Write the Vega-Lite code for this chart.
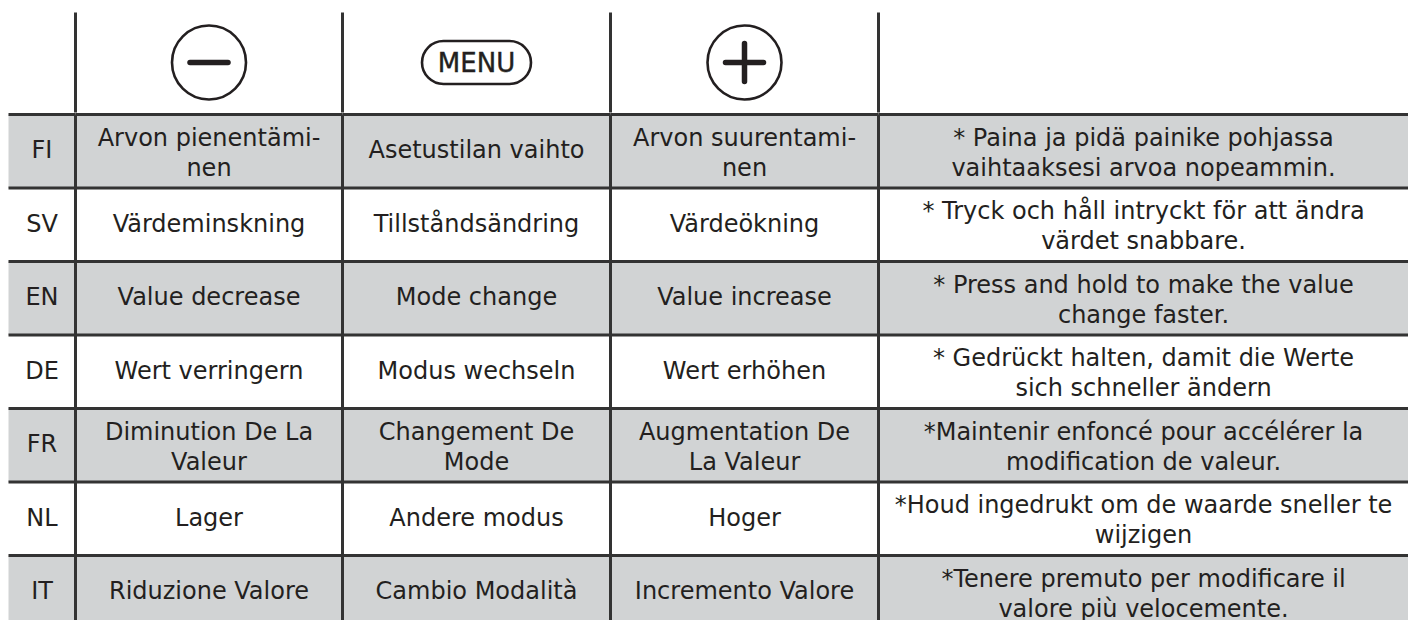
{
  "$schema": "https://vega.github.io/schema/vega-lite/v6.json",
  "padding": {"left": 6.5, "top": 10.5, "right": 0, "bottom": 0},
  "background": "white",
  "spacing": -3,
  "datasets": {
    "icons": [
      {"col": "minus", "label": ""},
      {"col": "menu", "label": "MENU"},
      {"col": "plus", "label": ""}
    ],
    "cells": [
      {"lang": "FI", "col": "lang", "text": "FI"},
      {"lang": "FI", "col": "minus", "text": "Arvon pienentämi-\nnen"},
      {"lang": "FI", "col": "menu", "text": "Asetustilan vaihto"},
      {"lang": "FI", "col": "plus", "text": "Arvon suurentami-\nnen"},
      {"lang": "FI", "col": "note", "text": "* Paina ja pidä painike pohjassa\nvaihtaaksesi arvoa nopeammin."},
      {"lang": "SV", "col": "lang", "text": "SV"},
      {"lang": "SV", "col": "minus", "text": "Värdeminskning"},
      {"lang": "SV", "col": "menu", "text": "Tillståndsändring"},
      {"lang": "SV", "col": "plus", "text": "Värdeökning"},
      {"lang": "SV", "col": "note", "text": "* Tryck och håll intryckt för att ändra\nvärdet snabbare."},
      {"lang": "EN", "col": "lang", "text": "EN"},
      {"lang": "EN", "col": "minus", "text": "Value decrease"},
      {"lang": "EN", "col": "menu", "text": "Mode change"},
      {"lang": "EN", "col": "plus", "text": "Value increase"},
      {"lang": "EN", "col": "note", "text": "* Press and hold to make the value\nchange faster."},
      {"lang": "DE", "col": "lang", "text": "DE"},
      {"lang": "DE", "col": "minus", "text": "Wert verringern"},
      {"lang": "DE", "col": "menu", "text": "Modus wechseln"},
      {"lang": "DE", "col": "plus", "text": "Wert erhöhen"},
      {"lang": "DE", "col": "note", "text": "* Gedrückt halten, damit die Werte\nsich schneller ändern"},
      {"lang": "FR", "col": "lang", "text": "FR"},
      {"lang": "FR", "col": "minus", "text": "Diminution De La\nValeur"},
      {"lang": "FR", "col": "menu", "text": "Changement De\nMode"},
      {"lang": "FR", "col": "plus", "text": "Augmentation De\nLa Valeur"},
      {"lang": "FR", "col": "note", "text": "*Maintenir enfoncé pour accélérer la\nmodification de valeur."},
      {"lang": "NL", "col": "lang", "text": "NL"},
      {"lang": "NL", "col": "minus", "text": "Lager"},
      {"lang": "NL", "col": "menu", "text": "Andere modus"},
      {"lang": "NL", "col": "plus", "text": "Hoger"},
      {"lang": "NL", "col": "note", "text": "*Houd ingedrukt om de waarde sneller te\nwijzigen"},
      {"lang": "IT", "col": "lang", "text": "IT"},
      {"lang": "IT", "col": "minus", "text": "Riduzione Valore"},
      {"lang": "IT", "col": "menu", "text": "Cambio Modalità"},
      {"lang": "IT", "col": "plus", "text": "Incremento Valore"},
      {"lang": "IT", "col": "note", "text": "*Tenere premuto per modificare il\nvalore più velocemente."}
    ]
  },
  "vconcat": [
    {
      "spacing": 0,
      "bounds": "flush",
      "hconcat": [
        {
          "width": 67, "height": 100,
          "data": {"name": "icons"},
          "transform": [{"filter": "false"}],
          "mark": {"type": "rule", "color": "#333333", "strokeWidth": 3},
          "encoding": {"x": {"datum": 0, "type": "quantitative", "scale": {"domain": [0, 1]}, "axis": null}}
        },
        {
          "width": 267, "height": 100,
          "data": {"name": "icons"},
          "transform": [{"filter": "datum.col === 'minus'"}],
          "layer": [
            {"mark": {"type": "rule", "color": "#333333", "strokeWidth": 3},
             "encoding": {"x": {"datum": 0, "type": "quantitative", "scale": {"domain": [0, 1]}, "axis": null}}},
            {"mark": {"type": "point", "shape": "circle", "size": 5476, "filled": false, "color": "#231f20", "strokeWidth": 2.6, "opacity": 1},
             "encoding": {"x": {"datum": 0.5, "type": "quantitative"}}},
            {"mark": {"type": "point", "shape": "M-1,0H1", "size": 1444, "filled": false, "color": "#231f20", "strokeWidth": 5.5, "strokeCap": "round", "opacity": 1},
             "encoding": {"x": {"datum": 0.5, "type": "quantitative"}}}
          ]
        },
        {
          "width": 268, "height": 100,
          "data": {"name": "icons"},
          "transform": [{"filter": "datum.col === 'menu'"}],
          "layer": [
            {"mark": {"type": "rule", "color": "#333333", "strokeWidth": 3},
             "encoding": {"x": {"datum": 0, "type": "quantitative", "scale": {"domain": [0, 1]}, "axis": null}}},
            {"mark": {"type": "point", "shape": "M-0.943,-0.614H0.943A0.614,0.614 0 0 1 0.943,0.614H-0.943A0.614,0.614 0 0 1 -0.943,-0.614Z", "size": 4900, "filled": false, "color": "#231f20", "strokeWidth": 2.6, "opacity": 1},
             "encoding": {"x": {"datum": 0.5, "type": "quantitative"}}},
            {"mark": {"type": "text", "font": "DejaVu Sans", "fontSize": 26, "fontWeight": "normal", "color": "#231f20", "stroke": "#231f20", "strokeWidth": 0.4, "baseline": "middle", "align": "center", "dy": 1},
             "encoding": {"x": {"datum": 0.5, "type": "quantitative"}, "text": {"field": "label", "type": "nominal"}}}
          ]
        },
        {
          "width": 268, "height": 100,
          "data": {"name": "icons"},
          "transform": [{"filter": "datum.col === 'plus'"}],
          "layer": [
            {"mark": {"type": "rule", "color": "#333333", "strokeWidth": 3},
             "encoding": {"x": {"datum": 0, "type": "quantitative", "scale": {"domain": [0, 1]}, "axis": null}}},
            {"mark": {"type": "point", "shape": "circle", "size": 5476, "filled": false, "color": "#231f20", "strokeWidth": 2.6, "opacity": 1},
             "encoding": {"x": {"datum": 0.5, "type": "quantitative"}}},
            {"mark": {"type": "point", "shape": "M-1,0H1M0,-1V1", "size": 1444, "filled": false, "color": "#231f20", "strokeWidth": 5.5, "strokeCap": "round", "opacity": 1},
             "encoding": {"x": {"datum": 0.5, "type": "quantitative"}}}
          ]
        },
        {
          "width": 530, "height": 100,
          "data": {"name": "icons"},
          "transform": [{"aggregate": [{"op": "count", "as": "n"}]}],
          "mark": {"type": "rule", "color": "#333333", "strokeWidth": 3},
          "encoding": {"x": {"datum": 0, "type": "quantitative", "scale": {"domain": [0, 1]}, "axis": null}}
        }
      ]
    },
    {
      "spacing": 0,
      "bounds": "flush",
      "hconcat": [
        {
          "width": 67, "height": 514.5,
          "data": {"name": "cells"},
          "transform": [{"filter": "datum.col === 'lang'"}],
          "layer": [
            {"mark": {"type": "rect"},
             "encoding": {
               "x": {"datum": 0, "type": "quantitative", "scale": {"domain": [0, 1]}, "axis": null},
               "x2": {"datum": 1},
               "y": {"field": "lang", "type": "nominal", "sort": null, "scale": {"domain": ["FI","SV","EN","DE","FR","NL","IT"], "paddingInner": 0, "paddingOuter": 0}, "axis": null},
               "color": {"field": "lang", "type": "nominal", "scale": {"domain": ["FI","SV","EN","DE","FR","NL","IT"], "range": ["#d1d3d4","#ffffff","#d1d3d4","#ffffff","#d1d3d4","#ffffff","#d1d3d4"]}, "legend": null}}},
            {"mark": {"type": "rule", "color": "#333333", "strokeWidth": 3},
             "encoding": {
               "x": {"datum": 0, "type": "quantitative"}, "x2": {"datum": 1},
               "y": {"field": "lang", "type": "nominal", "bandPosition": 0}}},
            {"transform": [{"filter": "indexof(datum.text, '\\n') < 0"}],
             "mark": {"type": "text", "font": "DejaVu Sans", "fontSize": 24, "color": "#231f20", "baseline": "middle", "align": "center"},
             "encoding": {"x": {"datum": 0.5, "type": "quantitative"}, "y": {"field": "lang", "type": "nominal"}, "text": {"field": "text", "type": "nominal"}}}
          ]
        },
        {
          "width": 267, "height": 514.5,
          "data": {"name": "cells"},
          "transform": [{"filter": "datum.col === 'minus'"}],
          "layer": [
            {"mark": {"type": "rect"},
             "encoding": {
               "x": {"datum": 0, "type": "quantitative", "scale": {"domain": [0, 1]}, "axis": null},
               "x2": {"datum": 1},
               "y": {"field": "lang", "type": "nominal", "sort": null, "scale": {"domain": ["FI","SV","EN","DE","FR","NL","IT"], "paddingInner": 0, "paddingOuter": 0}, "axis": null},
               "color": {"field": "lang", "type": "nominal", "scale": {"domain": ["FI","SV","EN","DE","FR","NL","IT"], "range": ["#d1d3d4","#ffffff","#d1d3d4","#ffffff","#d1d3d4","#ffffff","#d1d3d4"]}, "legend": null}}},
            {"mark": {"type": "rule", "color": "#333333", "strokeWidth": 3},
             "encoding": {
               "x": {"datum": 0, "type": "quantitative"}, "x2": {"datum": 1},
               "y": {"field": "lang", "type": "nominal", "bandPosition": 0}}},
            {"transform": [{"aggregate": [{"op": "count", "as": "n"}]}],
             "mark": {"type": "rule", "color": "#333333", "strokeWidth": 3},
             "encoding": {"x": {"datum": 0, "type": "quantitative"}}},
            {"transform": [{"filter": "indexof(datum.text, '\\n') < 0"}],
             "mark": {"type": "text", "font": "DejaVu Sans", "fontSize": 24, "color": "#231f20", "baseline": "middle", "align": "center"},
             "encoding": {"x": {"datum": 0.5, "type": "quantitative"}, "y": {"field": "lang", "type": "nominal"}, "text": {"field": "text", "type": "nominal"}}},
            {"transform": [{"filter": "indexof(datum.text, '\\n') >= 0"}],
             "mark": {"type": "text", "font": "DejaVu Sans", "fontSize": 24, "color": "#231f20", "baseline": "middle", "align": "center", "lineBreak": "\n", "lineHeight": 30, "dy": -12.5},
             "encoding": {"x": {"datum": 0.5, "type": "quantitative"}, "y": {"field": "lang", "type": "nominal"}, "text": {"field": "text", "type": "nominal"}}}
          ]
        },
        {
          "width": 268, "height": 514.5,
          "data": {"name": "cells"},
          "transform": [{"filter": "datum.col === 'menu'"}],
          "layer": [
            {"mark": {"type": "rect"},
             "encoding": {
               "x": {"datum": 0, "type": "quantitative", "scale": {"domain": [0, 1]}, "axis": null},
               "x2": {"datum": 1},
               "y": {"field": "lang", "type": "nominal", "sort": null, "scale": {"domain": ["FI","SV","EN","DE","FR","NL","IT"], "paddingInner": 0, "paddingOuter": 0}, "axis": null},
               "color": {"field": "lang", "type": "nominal", "scale": {"domain": ["FI","SV","EN","DE","FR","NL","IT"], "range": ["#d1d3d4","#ffffff","#d1d3d4","#ffffff","#d1d3d4","#ffffff","#d1d3d4"]}, "legend": null}}},
            {"mark": {"type": "rule", "color": "#333333", "strokeWidth": 3},
             "encoding": {
               "x": {"datum": 0, "type": "quantitative"}, "x2": {"datum": 1},
               "y": {"field": "lang", "type": "nominal", "bandPosition": 0}}},
            {"transform": [{"aggregate": [{"op": "count", "as": "n"}]}],
             "mark": {"type": "rule", "color": "#333333", "strokeWidth": 3},
             "encoding": {"x": {"datum": 0, "type": "quantitative"}}},
            {"transform": [{"filter": "indexof(datum.text, '\\n') < 0"}],
             "mark": {"type": "text", "font": "DejaVu Sans", "fontSize": 24, "color": "#231f20", "baseline": "middle", "align": "center"},
             "encoding": {"x": {"datum": 0.5, "type": "quantitative"}, "y": {"field": "lang", "type": "nominal"}, "text": {"field": "text", "type": "nominal"}}},
            {"transform": [{"filter": "indexof(datum.text, '\\n') >= 0"}],
             "mark": {"type": "text", "font": "DejaVu Sans", "fontSize": 24, "color": "#231f20", "baseline": "middle", "align": "center", "lineBreak": "\n", "lineHeight": 30, "dy": -12.5},
             "encoding": {"x": {"datum": 0.5, "type": "quantitative"}, "y": {"field": "lang", "type": "nominal"}, "text": {"field": "text", "type": "nominal"}}}
          ]
        },
        {
          "width": 268, "height": 514.5,
          "data": {"name": "cells"},
          "transform": [{"filter": "datum.col === 'plus'"}],
          "layer": [
            {"mark": {"type": "rect"},
             "encoding": {
               "x": {"datum": 0, "type": "quantitative", "scale": {"domain": [0, 1]}, "axis": null},
               "x2": {"datum": 1},
               "y": {"field": "lang", "type": "nominal", "sort": null, "scale": {"domain": ["FI","SV","EN","DE","FR","NL","IT"], "paddingInner": 0, "paddingOuter": 0}, "axis": null},
               "color": {"field": "lang", "type": "nominal", "scale": {"domain": ["FI","SV","EN","DE","FR","NL","IT"], "range": ["#d1d3d4","#ffffff","#d1d3d4","#ffffff","#d1d3d4","#ffffff","#d1d3d4"]}, "legend": null}}},
            {"mark": {"type": "rule", "color": "#333333", "strokeWidth": 3},
             "encoding": {
               "x": {"datum": 0, "type": "quantitative"}, "x2": {"datum": 1},
               "y": {"field": "lang", "type": "nominal", "bandPosition": 0}}},
            {"transform": [{"aggregate": [{"op": "count", "as": "n"}]}],
             "mark": {"type": "rule", "color": "#333333", "strokeWidth": 3},
             "encoding": {"x": {"datum": 0, "type": "quantitative"}}},
            {"transform": [{"filter": "indexof(datum.text, '\\n') < 0"}],
             "mark": {"type": "text", "font": "DejaVu Sans", "fontSize": 24, "color": "#231f20", "baseline": "middle", "align": "center"},
             "encoding": {"x": {"datum": 0.5, "type": "quantitative"}, "y": {"field": "lang", "type": "nominal"}, "text": {"field": "text", "type": "nominal"}}},
            {"transform": [{"filter": "indexof(datum.text, '\\n') >= 0"}],
             "mark": {"type": "text", "font": "DejaVu Sans", "fontSize": 24, "color": "#231f20", "baseline": "middle", "align": "center", "lineBreak": "\n", "lineHeight": 30, "dy": -12.5},
             "encoding": {"x": {"datum": 0.5, "type": "quantitative"}, "y": {"field": "lang", "type": "nominal"}, "text": {"field": "text", "type": "nominal"}}}
          ]
        },
        {
          "width": 530, "height": 514.5,
          "data": {"name": "cells"},
          "transform": [{"filter": "datum.col === 'note'"}],
          "layer": [
            {"mark": {"type": "rect"},
             "encoding": {
               "x": {"datum": 0, "type": "quantitative", "scale": {"domain": [0, 1]}, "axis": null},
               "x2": {"datum": 1},
               "y": {"field": "lang", "type": "nominal", "sort": null, "scale": {"domain": ["FI","SV","EN","DE","FR","NL","IT"], "paddingInner": 0, "paddingOuter": 0}, "axis": null},
               "color": {"field": "lang", "type": "nominal", "scale": {"domain": ["FI","SV","EN","DE","FR","NL","IT"], "range": ["#d1d3d4","#ffffff","#d1d3d4","#ffffff","#d1d3d4","#ffffff","#d1d3d4"]}, "legend": null}}},
            {"mark": {"type": "rule", "color": "#333333", "strokeWidth": 3},
             "encoding": {
               "x": {"datum": 0, "type": "quantitative"}, "x2": {"datum": 1},
               "y": {"field": "lang", "type": "nominal", "bandPosition": 0}}},
            {"transform": [{"aggregate": [{"op": "count", "as": "n"}]}],
             "mark": {"type": "rule", "color": "#333333", "strokeWidth": 3},
             "encoding": {"x": {"datum": 0, "type": "quantitative"}}},
            {"transform": [{"filter": "indexof(datum.text, '\\n') >= 0"}],
             "mark": {"type": "text", "font": "DejaVu Sans", "fontSize": 24, "color": "#231f20", "baseline": "middle", "align": "center", "lineBreak": "\n", "lineHeight": 30, "dy": -12.5},
             "encoding": {"x": {"datum": 0.5, "type": "quantitative"}, "y": {"field": "lang", "type": "nominal"}, "text": {"field": "text", "type": "nominal"}}}
          ]
        }
      ]
    }
  ],
  "config": {
    "view": {"stroke": null}
  }
}
